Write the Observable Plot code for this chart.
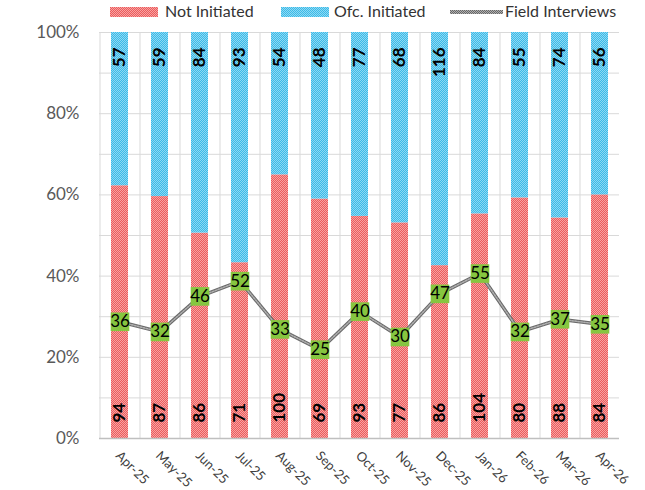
<!DOCTYPE html>
<html><head><meta charset="utf-8">
<script src="https://cdn.jsdelivr.net/npm/d3@7"></script>
<script src="https://cdn.jsdelivr.net/npm/@observablehq/plot@0.6"></script>
<style>
body{margin:0;background:#fff;font-family:Lato,"Open Sans",sans-serif}
#wrap{position:relative;width:645px;height:490px}
#legend{position:absolute;top:0;left:0;width:645px;height:24px;font-size:16px;color:#333}
.sw{position:absolute;top:7px;height:10px}
.lt{position:absolute;top:2px;line-height:18px}
</style></head><body>
<div id="wrap">
<div id="chart"></div>
<div id="legend">
  <div class="sw" style="left:110px;width:48px;background:repeating-conic-gradient(#f7a3a3 0 25%,#ec5c5c 0 50%) 0 0/2px 2px"></div>
  <div class="lt" style="left:165px">Not Initiated</div>
  <div class="sw" style="left:281px;width:48px;background:repeating-conic-gradient(#8fd8f3 0 25%,#3bbbe8 0 50%) 0 0/2px 2px"></div>
  <div class="lt" style="left:334px">Ofc. Initiated</div>
  <div class="sw" style="left:450px;width:53px;top:10px;height:4px;background:repeating-conic-gradient(#b0b0b0 0 25%,#666 0 50%) 0 0/2px 2px"></div>
  <div class="lt" style="left:505px">Field Interviews</div>
</div>
</div>
<script>
const months = ["Apr-25","May-25","Jun-25","Jul-25","Aug-25","Sep-25","Oct-25","Nov-25","Dec-25","Jan-26","Feb-26","Mar-26","Apr-26"];
const notInitiated = [94,87,86,71,100,69,93,77,86,104,80,88,84];
const ofcInitiated = [57,59,84,93,54,48,77,68,116,84,55,74,56];
const fieldInterviews = [36,32,46,52,33,25,40,30,47,55,32,37,35];
const seriesNames = ["Not Initiated","Ofc. Initiated"];
const yTicks = [0,0.1,0.2,0.3,0.4,0.5,0.6,0.7,0.8,0.9,1];
const yLabelTicks = [0,0.2,0.4,0.6,0.8,1];
const secondaryDomain = [-10,150];

const rows = [];
months.forEach((m,i)=>{
  rows.push({month:m, series:seriesNames[0], value:notInitiated[i]});
  rows.push({month:m, series:seriesNames[1], value:ofcInitiated[i]});
});
const lineRows = months.map((m,i)=>({month:m, value:fieldInterviews[i]}));
const niRows = months.map((m,i)=>({month:m, v:notInitiated[i]}));
const oiRows = months.map((m,i)=>({month:m, v:ofcInitiated[i]}));
const sec = d3.scaleLinear().domain(secondaryDomain).range([0,1]);

const plot = Plot.plot({
  width:645, height:490,
  marginLeft:99, marginRight:26, marginTop:32, marginBottom:52,
  style:{fontFamily:"Lato, 'Open Sans', sans-serif", background:"#fff"},
  x:{domain:months, paddingInner:0.58, paddingOuter:0.29, label:null, axis:null},
  y:{domain:[0,1], label:null},
  color:{domain:seriesNames, range:["url(#patRed)","url(#patBlue)"]},
  marks:[
    Plot.ruleY(yTicks, {stroke:"#d9d9d9", strokeWidth:1}),
    Plot.ruleX(months, {x:d=>d, dx:-20, stroke:"#d9d9d9", strokeWidth:1}),
    Plot.barY(rows, Plot.stackY({offset:"normalize", order:seriesNames}, {x:"month", y:"value", fill:"series"})),
    Plot.ruleY([0], {stroke:"#bfbfbf", strokeWidth:1.5}),
    Plot.axisY(yLabelTicks, {tickFormat:d3.format(".0%"), tickSize:0, tickPadding:20, fontSize:17, fill:"#595959"}),
    Plot.text(months, {x:d=>d, y:d=>0, text:d=>d, rotate:45, textAnchor:"start", lineAnchor:"middle", dx:-2, dy:15, fontSize:13, fill:"#404040"}),
    Plot.text(niRows, {x:"month", y:d=>0, text:"v", dy:-16, rotate:-90, textAnchor:"start", lineAnchor:"middle", fontSize:17, fontWeight:"bold", fill:"#000"}),
    Plot.text(oiRows, {x:"month", y:d=>1, text:"v", dy:15, rotate:-90, textAnchor:"end", lineAnchor:"middle", fontSize:17, fontWeight:"bold", fill:"#000"}),
    Plot.line(lineRows, {x:"month", y:d=>sec(d.value), stroke:"#6a6a6a", strokeWidth:3.5}),
    Plot.line(lineRows, {x:"month", y:d=>sec(d.value), stroke:"#b0b0b0", strokeWidth:1.5, strokeDasharray:"1.5,1.5"}),
    Plot.dot(lineRows, {x:"month", y:d=>sec(d.value), symbol:"square", r:10.5, fill:"#86c640", stroke:"none"}),
    Plot.text(lineRows, {x:"month", y:d=>sec(d.value), text:"value", fontSize:17, fill:"#000"})
  ]
});
const defs = d3.create("svg:defs");
function pat(id, base, light){
  const p = defs.append("pattern").attr("id",id).attr("width",2).attr("height",2).attr("patternUnits","userSpaceOnUse");
  p.append("rect").attr("width",2).attr("height",2).attr("fill",base);
  p.append("rect").attr("width",1).attr("height",1).attr("fill",light);
  p.append("rect").attr("x",1).attr("y",1).attr("width",1).attr("height",1).attr("fill",light);
}
pat("patRed","#ec5c5c","#f7a3a3");
pat("patBlue","#3bbbe8","#8fd8f3");
plot.insertBefore(defs.node(), plot.firstChild);
document.getElementById("chart").appendChild(plot);
</script>
</body></html>
